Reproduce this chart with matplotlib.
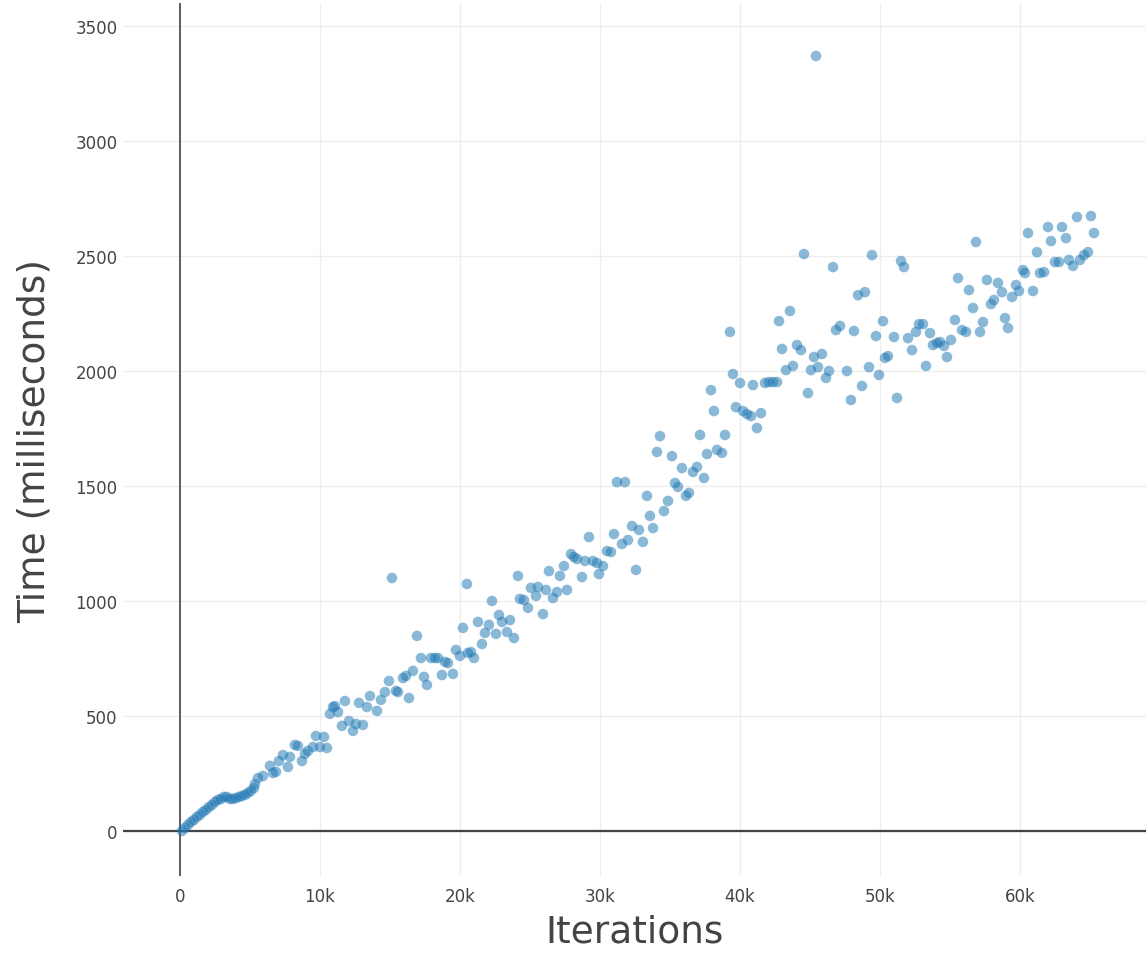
import matplotlib
matplotlib.use("Agg")
import matplotlib.pyplot as plt
from matplotlib.ticker import FuncFormatter

# iterations run vs. wall time (ms)
iterations = [
    143, 357, 571, 786, 1000, 1214, 1429, 1643, 1857, 2071, 2286, 2500, 2714,
    2929, 3143, 3357, 3571, 3786, 4000, 4214, 4429, 4643, 4857, 5071, 5286,
    5357, 5571, 5929, 6429, 6643, 6857, 7071, 7357, 7714, 7857, 8214, 8429,
    8714, 8929, 9143, 9500, 9714, 10000, 10286, 10500,
    10714, 10929, 11071, 11286, 11571, 11786, 12071, 12357, 12571, 12786,
    13071, 13357, 13571, 14071, 14357, 14643, 14929,
    15143, 15429, 15571, 15929, 16143, 16357, 16643, 16929, 17214, 17429,
    17643, 17929, 18214, 18429, 18714, 18929, 19143, 19500, 19714, 20000,
    20214, 20500, 20571, 20786, 21000, 21286, 21571, 21786, 22071, 22286,
    22571, 22786, 23000, 23357, 23571, 23857, 24143, 24286, 24571, 24857,
    25071, 25429, 25571, 25929, 26143, 26357, 26643, 26929, 27143, 27429,
    27643, 27929, 28143, 28357, 28714, 28929, 29214, 29500, 29786, 29929,
    30214, 30500, 30786, 31000, 31214, 31571, 31786, 32000, 32286, 32571,
    32786, 33071, 33357, 33571, 33786, 34071, 34286, 34571, 34857,
    35143, 35357, 35571, 35857, 36143, 36357, 36643, 36929, 37143, 37429,
    37643, 37929, 38143, 38357, 38714, 38929, 39286, 39500, 39714, 40000,
    40214, 40500, 40786, 40929, 41214, 41500, 41786, 42071, 42357, 42643,
    42786, 43000, 43286, 43571, 43786, 44071, 44357, 44571, 44857,
    45071, 45286, 45429, 45571, 45857, 46143, 46357, 46643, 46857, 47143,
    47643, 47929, 48143, 48429, 48714, 48929, 49214, 49429, 49714, 49929,
    50214, 50357, 50571, 51000, 51214, 51500, 51714, 52000, 52286, 52571,
    52786, 53071, 53286, 53571, 53786, 54071, 54286, 54571, 54786,
    55071, 55357, 55571, 55857, 56143, 56357, 56643, 56857, 57143, 57357,
    57643, 57929, 58143, 58429, 58714, 58929, 59143, 59429, 59714, 59929,
    60214, 60357, 60571, 60929, 61214, 61429, 61714, 62000, 62214, 62500,
    62786, 63000, 63286, 63500, 63786, 64071, 64286, 64571, 64857, 65071,
    65286,
]
time_ms = [
    0, 13, 26, 39, 48, 61, 70, 83, 91, 104, 113, 126, 135,
    139, 148, 148, 139, 139, 143, 148, 152, 157, 165, 174, 187,
    204, 230, 239, 283, 252, 257, 304, 330, 278, 322, 374, 370,
    304, 335, 348, 365, 413, 365, 409, 361,
    509, 539, 543, 517, 457, 565, 478, 435, 465, 557,
    461, 539, 587, 522, 570, 604, 652,
    1100, 609, 604, 665, 674, 578, 696, 848, 752, 670,
    635, 752, 752, 752, 678, 735, 730, 683, 787, 761,
    883, 1074, 774, 778, 752, 909, 813, 861, 896, 1000,
    857, 939, 909, 865, 917, 839, 1109, 1009, 1004, 970,
    1057, 1022, 1061, 943, 1048, 1130, 1013, 1039, 1109, 1152,
    1048, 1204, 1191, 1183, 1104, 1174, 1278, 1174, 1165, 1117,
    1152, 1217, 1213, 1291, 1517, 1248, 1517, 1265, 1326, 1135,
    1309, 1257, 1457, 1370, 1317, 1648, 1717, 1391, 1435,
    1630, 1513, 1496, 1578, 1457, 1470, 1561, 1583, 1722, 1535,
    1639, 1917, 1826, 1657, 1644, 1722, 2170, 1987, 1843, 1948,
    1826, 1813, 1804, 1939, 1752, 1817, 1948, 1952, 1952, 1952,
    2217, 2096, 2004, 2261, 2022, 2113, 2091, 2509, 1904,
    2004, 2061, 3370, 2017, 2074, 1970, 2000, 2452, 2178, 2196,
    2000, 1874, 2174, 2330, 1935, 2343, 2017, 2504, 2152, 1983,
    2217, 2057, 2065, 2148, 1883, 2478, 2452, 2143, 2091, 2170,
    2204, 2204, 2022, 2165, 2113, 2122, 2126, 2109, 2061,
    2135, 2222, 2404, 2178, 2170, 2352, 2274, 2561, 2170, 2213,
    2396, 2291, 2309, 2383, 2343, 2230, 2187, 2322, 2374, 2348,
    2439, 2426, 2600, 2348, 2517, 2426, 2430, 2626, 2565, 2474,
    2474, 2626, 2578, 2483, 2457, 2670, 2483, 2504, 2517, 2674,
    2600,
]
x_ticks = [0, 10000, 20000, 30000, 40000, 50000, 60000]
y_ticks = [0, 500, 1000, 1500, 2000, 2500, 3000, 3500]

text_color = "#444444"

fig = plt.figure(figsize=(11.46, 9.54), dpi=100)
ax = fig.add_axes([0.1073, 0.0807, 0.8927, 0.915])

ax.scatter(iterations, time_ms, s=58, color="#1f77b4", alpha=0.52,
           edgecolors="none", zorder=3)

ax.set_xlim(-4070, 69000)
ax.set_ylim(-196, 3600)
ax.set_xticks(x_ticks)
ax.set_yticks(y_ticks)
ax.xaxis.set_major_formatter(FuncFormatter(lambda v, p: "0" if v == 0 else f"{int(v / 1000)}k"))

# light grid, dark zero lines, no frame
ax.grid(True, color="#eeeeee", linewidth=1, zorder=0)
ax.axhline(0, color=text_color, linewidth=1.6, zorder=2)
ax.axvline(0, color=text_color, linewidth=1.2, zorder=2)
for sp in ax.spines.values():
    sp.set_visible(False)
ax.tick_params(axis="both", length=0, labelcolor=text_color, labelsize=12)
ax.tick_params(axis="x", pad=8)
ax.tick_params(axis="y", pad=4)

ax.set_xlabel("Iterations", fontsize=27, color=text_color, labelpad=6)
ax.set_ylabel("Time (milliseconds)", fontsize=27, color=text_color, labelpad=16)

fig.savefig("out.png", dpi=100)
